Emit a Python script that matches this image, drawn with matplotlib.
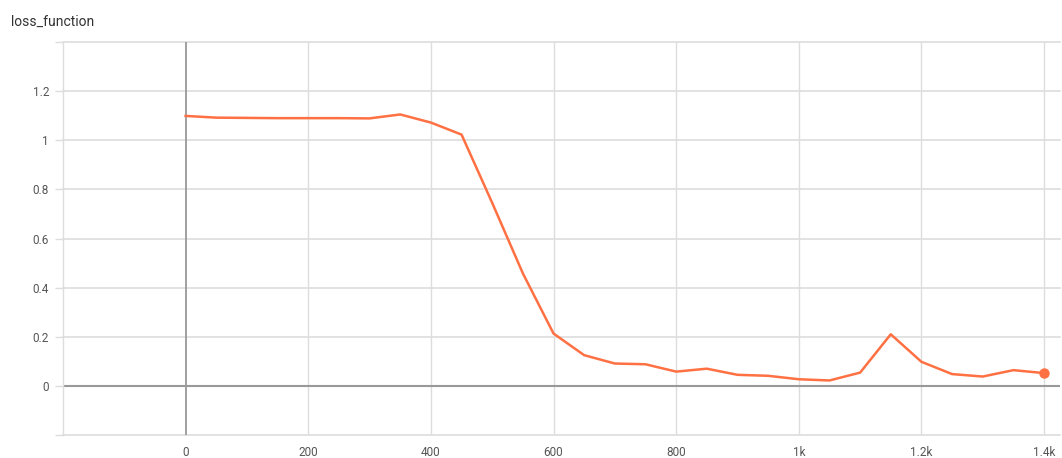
import matplotlib
matplotlib.use("Agg")
import matplotlib.pyplot as plt

steps = [0, 50, 100, 150, 200, 250, 300, 350, 400, 450, 500, 550, 600, 650, 700,
         750, 800, 850, 900, 950, 1000, 1050, 1100, 1150, 1200, 1250, 1300, 1350, 1400]
loss = [1.099, 1.092, 1.091, 1.090, 1.090, 1.090, 1.089, 1.105, 1.072, 1.023, 0.745,
        0.458, 0.213, 0.125, 0.091, 0.088, 0.058, 0.070, 0.045, 0.041, 0.027, 0.022,
        0.054, 0.210, 0.098, 0.048, 0.038, 0.064, 0.052]

title = "loss_function"
xticks = [0, 200, 400, 600, 800, 1000, 1200, 1400]
xticklabels = ["0", "200", "400", "600", "800", "1k", "1.2k", "1.4k"]
yticks = [-0.2, 0, 0.2, 0.4, 0.6, 0.8, 1.0, 1.2, 1.4]
yticklabels = ["", "0", "0.2", "0.4", "0.6", "0.8", "1", "1.2", ""]

plt.rcParams['font.family'] = ['Roboto', 'DejaVu Sans']

fig = plt.figure(figsize=(10.62, 4.58), dpi=100)
ax = fig.add_axes([63/1062, 1 - 435/458, (1060 - 63)/1062, (435 - 42)/458])

ax.set_xlim(-200, 1426)
ax.set_ylim(-0.2, 1.4)

grid_c = "#dddddd"
for x in xticks:
    if x != 0:
        ax.axvline(x, color=grid_c, lw=1, zorder=1)
for y in yticks:
    if y != 0:
        ax.axhline(y, color=grid_c, lw=1.2, zorder=1, clip_on=False)
ax.axvline(0, color="#999999", lw=1.3, zorder=2)
ax.axhline(0, color="#999999", lw=1.5, zorder=2)

ax.plot(steps, loss, color="#ff7043", lw=1.8, zorder=3, solid_joinstyle="round")
ax.plot(steps[-1], loss[-1], "o", color="#ff7043", ms=6.5, zorder=4)

ax.set_xticks(xticks)
ax.set_xticklabels(xticklabels)
ax.set_yticks(yticks)
ax.set_yticklabels(yticklabels)
ax.tick_params(axis="x", length=0, pad=8, labelsize=8.5, labelcolor="#555555")
ax.tick_params(axis="y", length=6, width=1, color=grid_c, pad=4, labelsize=8.5,
               labelcolor="#555555")

for s in ["top", "right", "bottom"]:
    ax.spines[s].set_visible(False)
ax.spines["left"].set_color(grid_c)
ax.spines["left"].set_linewidth(1)

fig.text(11/1062, 1 - 22/458, title, fontsize=10, color="#333333", va="center", ha="left")

fig.savefig("out.png", dpi=100)
